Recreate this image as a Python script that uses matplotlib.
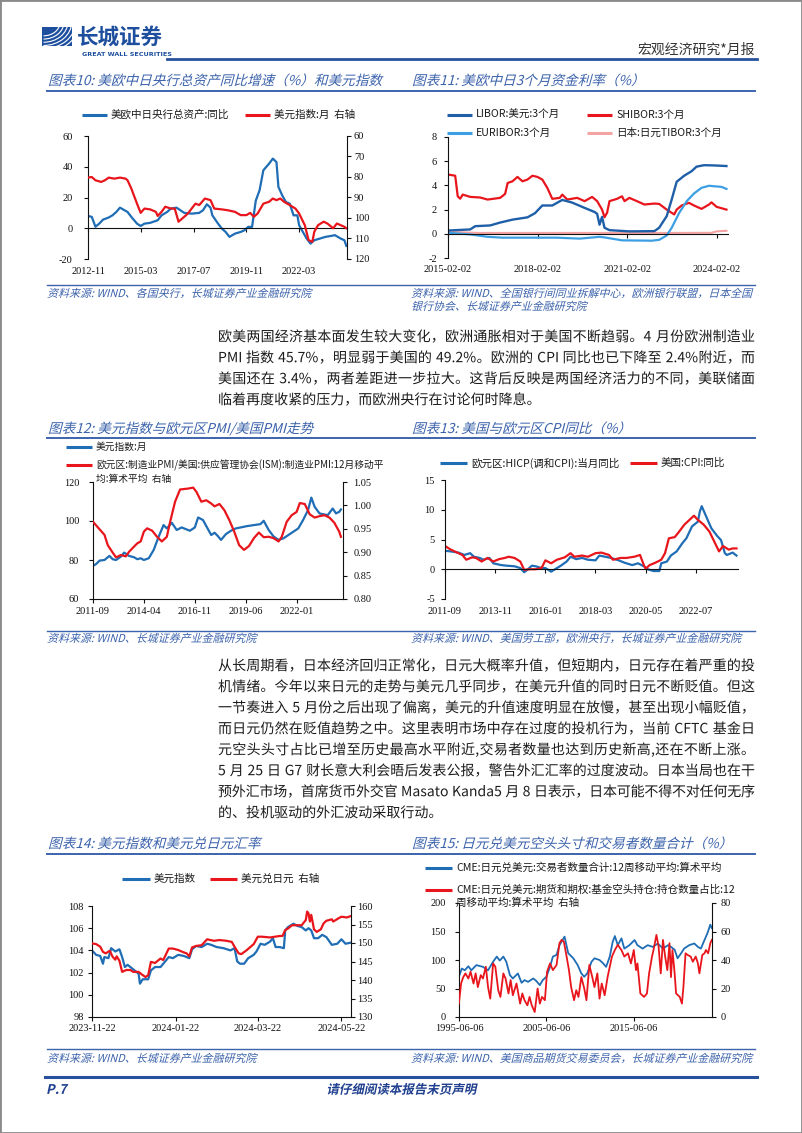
import re
import numpy as np
import pandas as pd
import matplotlib
matplotlib.use('Agg')
import matplotlib.pyplot as plt
from matplotlib.lines import Line2D
from matplotlib.patches import Rectangle, PathPatch, Arc
from matplotlib.textpath import TextPath
from matplotlib.font_manager import FontProperties
from matplotlib.transforms import Affine2D, IdentityTransform

plt.rcParams['font.family'] = ['Noto Sans CJK SC', 'DejaVu Sans']
plt.rcParams['axes.unicode_minus'] = False

# ---------------- data ----------------
# chart 10: central bank assets yoy (left) and dollar index (right, inverted)
c10_assets_dates = ['2012-11','2013-01','2013-03','2013-05','2013-07','2013-10','2013-12','2014-02','2014-04','2014-06',
                    '2014-08','2014-10','2015-01','2015-03','2015-05','2015-08','2015-12','2016-02','2016-05','2016-07',
                    '2016-10','2016-12','2017-02','2017-06','2017-10','2017-12','2018-02','2018-04','2018-05','2018-08',
                    '2018-10','2018-12','2019-02','2019-05','2019-08','2019-10','2019-12','2020-02','2020-04','2020-06',
                    '2020-08','2020-11','2021-01','2021-03','2021-04','2021-06','2021-08','2021-10','2021-12','2022-02',
                    '2022-03','2022-05','2022-07','2022-09','2022-11','2023-02','2023-05','2023-07','2023-10','2024-01',
                    '2024-03','2024-04']
c10_assets = [8, 7.4, 1, 3, 5.6, 7, 8.4, 10.6, 13.4, 12,
              10.6, 7.4, 3, 1.5, 3, 3.5, 5.2, 8.4, 10.6, 12.8,
              13.4, 11.7, 10, 9.5, 10, 11.7, 15.6, 13.4, 8.4, 3,
              -0.2, -2.4, -5.6, -3.5, -2.4, -1.3, 0.9, 0.9, 18, 24.7,
              37.7, 42, 45.3, 43, 26.9, 21.4, 17, 16, 8.4, 8.4,
              2, -2.4, -6.7, -10, -7.8, -6.7, -5.6, -5.2, -4.5, -6.7,
              -7.8, -11.5]
c10_dxy_dates = ['2012-11','2013-01','2013-03','2013-06','2013-08','2013-10','2014-01','2014-04','2014-07','2014-08',
                 '2014-10','2015-01','2015-03','2015-05','2015-08','2015-11','2015-12','2016-02','2016-04','2016-07',
                 '2016-09','2016-11','2017-02','2017-04','2017-08','2017-10','2018-01','2018-04','2018-06','2018-10',
                 '2019-01','2019-05','2019-08','2019-11','2020-01','2020-03','2020-05','2020-08','2020-11','2021-01',
                 '2021-03','2021-05','2021-07','2021-10','2022-01','2022-03','2022-06','2022-08','2022-10','2022-11',
                 '2023-01','2023-04','2023-06','2023-09','2023-11','2024-01','2024-03','2024-04']
c10_dxy = [80.3, 80, 81.6, 82.4, 81.6, 80.3, 80.8, 80.3, 80.8, 81.6,
           85.6, 93, 97.5, 95.4, 95.8, 97, 99, 97, 94.5, 95.4,
           95.4, 101.8, 99.4, 97.8, 93, 93.7, 90.5, 91.3, 95.4, 95.8,
           96.2, 97, 98.6, 98.6, 97.5, 99.4, 97.8, 93, 92.1, 90.5,
           91.3, 90.5, 92.1, 93.7, 95.4, 97.8, 103.5, 110.8, 111.6, 106.7,
           103.5, 101.8, 102.7, 105, 102.7, 103.5, 104.3, 105]
c10_ticks = ['2012-11', '2015-03', '2017-07', '2019-11', '2022-03']

# chart 11: 3-month money rates
c11_libor_dates = ['2015-02','2015-11','2016-01','2016-07','2016-11','2017-04','2017-10','2018-01','2018-04','2018-08',
                   '2018-12','2019-04','2019-09','2020-01','2020-02','2020-03','2020-04','2020-05','2020-07','2021-03',
                   '2022-01','2022-03','2022-06','2022-08','2022-10','2023-01','2023-04','2023-06','2023-09','2024-01',
                   '2024-06']
c11_libor = [0.27, 0.36, 0.63, 0.69, 0.93, 1.17, 1.36, 1.7, 2.34, 2.34,
             2.8, 2.58, 2.14, 1.8, 1.65, 0.75, 1.4, 0.5, 0.3, 0.2,
             0.22, 0.5, 1.46, 2.83, 4.3, 4.8, 5.17, 5.55, 5.67, 5.65,
             5.6]
c11_shibor_dates = ['2015-02','2015-05','2015-06','2015-07','2015-08','2015-11','2016-03','2016-06','2016-11','2017-01',
                    '2017-02','2017-04','2017-06','2017-08','2017-10','2017-12','2018-02','2018-04','2018-06','2018-08',
                    '2018-11','2018-12','2019-02','2019-06','2019-09','2019-12','2020-02','2020-04','2020-05','2020-06',
                    '2020-07','2020-10','2020-12','2021-01','2021-03','2021-06','2021-09','2022-01','2022-03','2022-06',
                    '2022-09','2022-10','2022-12','2023-03','2023-05','2023-08','2023-11','2023-12','2024-02','2024-06']
c11_shibor = [4.9, 4.8, 3.1, 2.9, 3.24, 3.05, 3.0, 2.83, 2.97, 3.3,
              4.2, 4.34, 4.7, 4.34, 4.48, 4.8, 4.7, 4.48, 3.8, 2.89,
              2.97, 3.24, 2.83, 2.97, 2.7, 3.05, 2.7, 2.0, 1.37, 1.73,
              2.7, 2.89, 3.1, 2.7, 2.97, 2.7, 2.42, 2.5, 2.47, 2.0,
              1.6, 2.0, 2.34, 2.56, 2.34, 2.06, 2.42, 2.6, 2.23, 2.0]
c11_euribor_dates = ['2015-02','2015-11','2016-06','2016-12','2018-10','2019-07','2020-03','2020-05','2020-12','2021-12',
                     '2022-03','2022-06','2022-08','2022-11','2023-02','2023-05','2023-08','2023-11','2024-01','2024-04',
                     '2024-06']
c11_euribor = [0.08, -0.05, -0.25, -0.32, -0.32, -0.4, -0.25, -0.3, -0.54, -0.57,
               -0.5, -0.14, 0.5, 1.73, 2.7, 3.33, 3.8, 3.97, 3.93, 3.88,
               3.71]
c11_tibor_dates = ['2015-02', '2016-02', '2018-01', '2020-06', '2022-06', '2023-12', '2024-02', '2024-06']
c11_tibor = [0.17, 0.07, 0.07, 0.07, 0.07, 0.08, 0.2, 0.25]
c11_ticks = ['2015-02-02', '2018-02-02', '2021-02-02', '2024-02-02']

# chart 12: dollar index (left) and EZ PMI / US PMI ratio (right)
c12_dxy_dates = ['2011-09','2011-11','2012-01','2012-04','2012-07','2012-09','2012-11','2013-02','2013-04','2013-07',
                 '2013-10','2013-12','2014-02','2014-04','2014-07','2014-10','2015-01','2015-04','2015-06','2015-09',
                 '2015-12','2016-03','2016-08','2016-11','2017-01','2017-04','2017-06','2017-09','2017-11','2018-01',
                 '2018-03','2018-06','2018-09','2018-12','2019-03','2019-07','2019-11','2020-03','2020-05','2020-08',
                 '2020-11','2021-02','2021-05','2021-08','2021-11','2022-02','2022-05','2022-08','2022-10','2022-12',
                 '2023-03','2023-05','2023-08','2023-11','2024-01','2024-03','2024-04']
c12_dxy = [77, 78, 79.7, 80, 82.1, 80.4, 80, 81.8, 83.8, 82.1,
           81.4, 80.4, 80.9, 80, 80.9, 85.2, 92, 97.9, 96.2, 99.1,
           95.4, 96.7, 95, 96.7, 101.8, 100.5, 97.4, 92.8, 94, 92.3,
           90.3, 93.3, 95, 96.2, 96.7, 97.4, 97.9, 98.4, 100.1, 95.4,
           92, 90.3, 91.1, 92.8, 94.5, 96.2, 100.5, 105.6, 112, 107.3,
           103.9, 103.5, 103, 106.4, 103.9, 104.7, 105.9]
c12_pmi_dates = ['2011-09','2011-12','2012-04','2012-06','2012-09','2012-11','2013-02','2013-05','2013-07','2013-10',
                 '2013-12','2014-02','2014-04','2014-06','2014-09','2014-12','2015-03','2015-06','2015-08','2015-11',
                 '2016-02','2016-07','2016-10','2016-12','2017-03','2017-06','2017-09','2017-11','2018-02','2018-05',
                 '2018-08','2018-11','2019-02','2019-05','2019-08','2019-11','2020-02','2020-05','2020-08','2020-11',
                 '2021-02','2021-04','2021-07','2021-10','2022-01','2022-03','2022-06','2022-09','2022-12','2023-03',
                 '2023-06','2023-09','2023-12','2024-03','2024-04']
c12_pmi = [0.965, 0.953, 0.937, 0.915, 0.899, 0.889, 0.894, 0.891, 0.901, 0.912,
           0.919, 0.923, 0.944, 0.951, 0.946, 0.933, 0.923, 0.933, 0.965, 1.008,
           1.034, 1.036, 1.038, 1.029, 1.008, 1.011, 1.004, 0.998, 1.003, 0.99,
           0.969, 0.944, 0.915, 0.905, 0.913, 0.93, 0.942, 0.932, 0.933, 0.93,
           0.923, 0.933, 0.965, 0.979, 0.986, 1.005, 1.003, 0.981, 0.974, 0.977,
           0.979, 0.974, 0.963, 0.944, 0.933]
c12_ticks = ['2011-09', '2014-04', '2016-11', '2019-06', '2022-01']

# chart 13: HICP and US CPI yoy
c13_hicp_dates = ['2011-09','2011-12','2012-04','2012-07','2012-10','2012-12','2013-03','2013-05','2013-08','2013-10',
                  '2014-02','2014-05','2014-09','2014-12','2015-02','2015-04','2015-06','2015-08','2015-11','2016-01',
                  '2016-04','2016-06','2016-09','2016-12','2017-02','2017-05','2017-08','2017-11','2018-03','2018-05',
                  '2018-08','2018-11','2019-03','2019-06','2019-10','2020-01','2020-04','2020-06','2020-09','2020-12',
                  '2021-01','2021-04','2021-06','2021-09','2021-12','2022-02','2022-05','2022-08','2022-09','2022-10',
                  '2022-12','2023-03','2023-06','2023-08','2023-10','2023-11','2024-02','2024-04']
c13_hicp = [3.1, 3.0, 2.8, 2.4, 2.7, 2.1, 1.9, 1.6, 1.9, 1.0,
            0.7, 0.6, 0.5, 0.2, -0.5, 0.0, 0.6, 0.5, 0.2, 0.2,
            -0.4, 0.0, 0.6, 1.3, 2.1, 1.7, 1.9, 1.6, 1.5, 2.3,
            2.1, 1.9, 1.5, 1.1, 0.7, 1.0, 0.5, 0.0, -0.3, -0.3,
            1.0, 1.3, 2.3, 3.0, 4.4, 5.2, 7.2, 8.0, 9.7, 10.6,
            9.1, 6.9, 5.6, 4.9, 2.7, 2.4, 2.8, 2.3]
c13_cpi_dates = ['2011-09','2011-12','2012-04','2012-06','2012-08','2012-11','2013-01','2013-04','2013-07','2013-10',
                 '2014-01','2014-04','2014-06','2014-09','2014-12','2015-02','2015-05','2015-08','2015-11','2016-01',
                 '2016-04','2016-07','2016-11','2017-02','2017-04','2017-08','2017-11','2018-03','2018-06','2018-10',
                 '2018-12','2019-04','2019-07','2019-11','2020-02','2020-04','2020-05','2020-07','2020-10','2021-01',
                 '2021-03','2021-05','2021-08','2021-10','2022-01','2022-04','2022-06','2022-08','2022-11','2023-02',
                 '2023-04','2023-07','2023-09','2023-12','2024-02','2024-04']
c13_cpi = [3.9, 3.3, 2.7, 2.4, 1.6, 2.0, 1.9, 1.3, 1.9, 1.3,
           1.7, 1.9, 2.1, 1.9, 1.3, -0.1, 0.0, 0.0, 0.2, 1.5,
           1.0, 1.6, 2.0, 2.7, 2.1, 2.3, 2.1, 2.7, 2.8, 2.4,
           1.6, 1.9, 1.9, 2.1, 2.4, 0.7, 0.1, 0.7, 1.1, 1.6,
           2.7, 5.2, 5.4, 6.2, 7.5, 8.4, 9.0, 8.3, 7.5, 6.3,
           5.0, 3.0, 3.9, 3.3, 3.5, 3.5]
c13_ticks = ['2011-09', '2013-11', '2016-01', '2018-03', '2020-05', '2022-07']

# chart 14: dollar index and USDJPY (daily)
c14_dxy_dates = ['2023-11-22','2023-11-25','2023-11-28','2023-11-30','2023-12-01','2023-12-04','2023-12-06','2023-12-09','2023-12-12','2023-12-14',
                 '2023-12-16','2023-12-18','2023-12-22','2023-12-26','2023-12-27','2023-12-29','2024-01-02','2024-01-04','2024-01-07','2024-01-11',
                 '2024-01-13','2024-01-17','2024-01-20','2024-01-24','2024-01-28','2024-02-01','2024-02-03','2024-02-06','2024-02-10','2024-02-14',
                 '2024-02-17','2024-02-21','2024-02-26','2024-03-02','2024-03-05','2024-03-07','2024-03-09','2024-03-12','2024-03-15','2024-03-19',
                 '2024-03-21','2024-03-24','2024-03-27','2024-03-31','2024-04-02','2024-04-04','2024-04-07','2024-04-10','2024-04-11','2024-04-13',
                 '2024-04-17','2024-04-20','2024-04-23','2024-04-26','2024-04-28','2024-04-30','2024-05-02','2024-05-05','2024-05-08','2024-05-11',
                 '2024-05-15','2024-05-19','2024-05-22','2024-05-25','2024-05-29']
c14_dxy = [104.0, 103.6, 103.5, 102.8, 103.4, 103.3, 104.2, 103.9, 104.1, 103.4,
           102.5, 102.7, 102.3, 101.9, 101.0, 101.4, 101.4, 102.2, 102.5, 102.5,
           102.8, 103.4, 103.3, 103.6, 103.5, 103.3, 104.1, 104.4, 104.3, 104.6,
           104.5, 104.3, 104.2, 104.0, 104.2, 103.0, 102.8, 102.8, 103.3, 103.6,
           103.9, 104.6, 104.5, 104.8, 105.1, 104.3, 104.3, 104.2, 105.8, 106.1,
           106.4, 106.2, 106.1, 105.8, 106.0, 105.8, 105.1, 105.1, 105.4, 105.2,
           104.5, 104.6, 105.0, 104.6, 104.7]
c14_jpy_dates = ['2023-11-22','2023-11-25','2023-11-28','2023-11-30','2023-12-02','2023-12-05','2023-12-07','2023-12-09','2023-12-10','2023-12-12',
                 '2023-12-14','2023-12-17','2023-12-20','2023-12-22','2023-12-26','2023-12-28','2023-12-31','2024-01-02','2024-01-04','2024-01-07',
                 '2024-01-11','2024-01-13','2024-01-17','2024-01-20','2024-01-24','2024-01-27','2024-01-30','2024-02-01','2024-02-03','2024-02-06',
                 '2024-02-10','2024-02-14','2024-02-19','2024-02-23','2024-02-28','2024-03-03','2024-03-05','2024-03-08','2024-03-10','2024-03-14',
                 '2024-03-19','2024-03-22','2024-03-25','2024-03-31','2024-04-07','2024-04-09','2024-04-11','2024-04-13','2024-04-16','2024-04-20',
                 '2024-04-23','2024-04-26','2024-04-27','2024-04-28','2024-04-29','2024-04-30','2024-05-02','2024-05-04','2024-05-07','2024-05-09',
                 '2024-05-11','2024-05-15','2024-05-16','2024-05-20','2024-05-22','2024-05-26','2024-05-29']
c14_jpy = [149.9, 149.7, 149.0, 147.6, 147.2, 147.9, 146.3, 145.5, 146.4, 145.2,
           142.2, 142.7, 142.7, 142.2, 142.2, 141.6, 140.8, 141.3, 144.9, 144.6,
           145.8, 145.4, 148.5, 148.5, 148.1, 147.6, 147.2, 146.4, 148.8, 149.2,
           149.4, 151.0, 150.6, 150.8, 150.6, 150.3, 149.0, 147.2, 147.0, 148.1,
           149.7, 151.7, 151.7, 151.5, 151.9, 151.9, 153.5, 153.9, 154.8, 154.8,
           154.8, 156.2, 158.5, 158.0, 155.8, 157.6, 153.7, 153.0, 153.7, 155.3,
           156.0, 156.4, 155.8, 156.7, 157.1, 156.9, 157.3]
c14_ticks = ['2023-11-22', '2024-01-22', '2024-03-22', '2024-05-22']

# chart 15: CME JPY traders count (left) and fund short share % (right)
c15_traders_dates = ['1995-06','1995-10','1996-02','1996-07','1996-11','1997-06','1998-03','1998-10','1999-05','1999-10',
                     '2000-02','2000-07','2000-11','2001-04','2001-08','2002-03','2002-08','2002-12','2003-05','2003-12',
                     '2004-04','2004-09','2005-01','2005-06','2005-11','2006-03','2006-08','2006-12','2007-07','2007-12',
                     '2008-07','2009-01','2009-06','2009-10','2010-02','2010-08','2010-12','2011-07','2011-12','2012-04',
                     '2012-09','2013-01','2013-04','2013-08','2014-01','2014-05','2014-12','2015-07','2015-11','2016-06',
                     '2017-01','2017-08','2018-03','2018-10','2019-05','2019-09','2020-02','2020-06','2020-11','2021-03',
                     '2021-10','2022-05','2022-10','2023-02','2023-07','2023-11','2024-03','2024-05']
c15_traders = [70.6, 85, 82, 89, 82, 91, 88, 82, 97, 106,
               99, 106, 97, 73.5, 67.6, 76.4, 60, 64.7, 61.7, 67.6,
               63.5, 55.9, 64.7, 70.6, 88, 106, 109, 126, 141, 112,
               103, 91, 76.4, 70.6, 76.4, 97, 103, 100, 94, 88,
               106, 132, 142, 126, 138, 120, 126, 135, 126, 120,
               126, 123, 129, 120, 126, 123, 118, 103, 112, 120,
               126, 129, 123, 120, 135, 147, 162, 156]
c15_short_dates = ['1995-06','1995-09','1995-12','1996-03','1996-07','1996-10','1997-02','1997-05','1997-08','1997-12',
                   '1998-03','1998-07','1998-10','1999-01','1999-05','1999-08','1999-12','2000-03','2000-07','2000-10',
                   '2001-02','2001-05','2001-08','2002-01','2002-06','2002-09','2002-12','2003-04','2003-07','2003-10',
                   '2004-02','2004-06','2004-09','2004-12','2005-04','2005-07','2005-11','2006-03','2006-08','2006-12',
                   '2007-03','2007-06','2007-09','2008-01','2008-04','2008-08','2008-11','2009-02','2009-06','2009-10',
                   '2010-01','2010-05','2010-09','2010-12','2011-04','2011-07','2011-10','2012-02','2012-06','2012-09',
                   '2012-12','2013-04','2013-08','2014-01','2014-05','2014-10','2015-02','2015-06','2015-09','2015-11',
                   '2016-03','2016-08','2016-12','2017-03','2017-07','2017-09','2018-01','2018-04','2018-07','2018-10',
                   '2019-01','2019-04','2019-07','2019-09','2019-11','2020-02','2020-04','2020-09','2020-12','2021-02',
                   '2021-05','2021-08','2021-12','2022-03','2022-07','2022-10','2022-12','2023-04','2023-07','2023-09',
                   '2023-12','2024-03','2024-05']
c15_short = [9.4, 23.5, 28, 30.6, 27, 31.8, 23.5, 30.6, 21, 29.4,
             27, 35.3, 21, 12.9, 37.6, 35.3, 18.8, 14.1, 30.6, 27,
             16.5, 25.9, 15.3, 23.5, 9.4, 16.5, 11.8, 8.2, 14.1, 8.2,
             3.5, 20, 9.4, 14.1, 11.8, 31.8, 37.6, 32.9, 36.5, 51.8,
             54.1, 52.9, 44.7, 32.9, 21, 11.8, 18.8, 14.1, 28, 20,
             11.8, 36.5, 28, 21, 30.6, 12.9, 23.5, 15.3, 28, 35.3,
             42.4, 47, 50.6, 47, 42.4, 44.7, 37.6, 47, 32.9, 37.6,
             16.5, 14.1, 16.5, 30.6, 42.4, 47, 57.6, 49.4, 30.6, 54.1,
             42.4, 32.9, 51.8, 28, 47, 30.6, 16.5, 14.1, 9.4, 21,
             44.7, 43.5, 42.4, 38.8, 42.4, 37.6, 30.6, 43.5, 44.7, 47,
             44.7, 51.8, 54.1]
c15_ticks = ['1995-06-06', '2005-06-06', '2015-06-06']

para1 = ['欧美两国经济基本面发生较大变化，欧洲通胀相对于美国不断趋弱。4 月份欧洲制造业',
         'PMI 指数 45.7%，明显弱于美国的 49.2%。欧洲的 CPI 同比也已下降至 2.4%附近，而',
         '美国还在 3.4%，两者差距进一步拉大。这背后反映是两国经济活力的不同，美联储面',
         '临着再度收紧的压力，而欧洲央行在讨论何时降息。']
para2 = ['从长周期看，日本经济回归正常化，日元大概率升值，但短期内，日元存在着严重的投',
         '机情绪。今年以来日元的走势与美元几乎同步，在美元升值的同时日元不断贬值。但这',
         '一节奏进入 5 月份之后出现了偏离，美元的升值速度明显在放慢，甚至出现小幅贬值，',
         '而日元仍然在贬值趋势之中。这里表明市场中存在过度的投机行为，当前 CFTC 基金日',
         '元空头头寸占比已增至历史最高水平附近,交易者数量也达到历史新高,还在不断上涨。',
         '5 月 25 日 G7 财长意大利会晤后发表公报，警告外汇汇率的过度波动。日本当局也在干',
         '预外汇市场，首席货币外交官 Masato Kanda5 月 8 日表示，日本可能不得不对任何无序',
         '的、投机驱动的外汇波动采取行动。']

# ---------------- page ----------------
W, H, DPI = 802, 1133, 100
BLUE = '#1f6db5'
RED = '#e8161c'
TBLUE = '#3b62ab'
LINEBLUE = '#3c64ad'
TXT = '#1c1c1c'
SERIF = 'Liberation Serif'
CJK = FontProperties(family='Noto Sans CJK SC')
CJKB = FontProperties(family='Noto Sans CJK SC', weight='bold')
K = DPI / 72

fig = plt.figure(figsize=(W / DPI, H / DPI), dpi=DPI, facecolor='white')


def fx(x):
    return x / W


def fy(y):
    return 1 - y / H


def hline(x1, x2, y, lw, color=LINEBLUE):
    fig.add_artist(Line2D([fx(x1), fx(x2)], [fy(y), fy(y)], color=color, lw=lw,
                          transform=fig.transFigure))


def add_path(tp, tr, color):
    fig.add_artist(PathPatch(tr.transform_path(tp), fc=color, ec='none', lw=0, snap=False,
                             transform=IdentityTransform()))


def path_text(x, y, s, size, color, bold=False, skew=0, ha='left'):
    tp = TextPath((0, 0), s, size=size, prop=CJKB if bold else CJK)
    w = tp.get_extents().x1 * K
    if ha == 'center':
        x -= w / 2
    elif ha == 'right':
        x -= w
    tr = Affine2D().skew_deg(skew, 0).scale(K).translate(x, H - y - 0.37 * size * K)
    add_path(tp, tr, color)


BODY = 10.1
TEXT_L, TEXT_R = 218, 755


def body_line(y, s, justify):
    em = BODY * K
    toks = re.findall(r'[!-~]+| +|[^\x00-\x7f]', s)
    paths, widths = [], []
    for t in toks:
        if t.strip() == '':
            paths.append(None)
            widths.append(0.27 * em * len(t))
            continue
        tp = TextPath((0, 0), t, size=BODY, prop=CJK)
        paths.append(tp)
        if ord(t[0]) > 127:
            widths.append(em)
        else:
            widths.append(tp.get_extents().x1 * K + 0.06 * em)
    gap = 0
    if justify and len(toks) > 1:
        gap = (TEXT_R - TEXT_L - sum(widths)) / (len(toks) - 1)
    x = TEXT_L
    for tp, w in zip(paths, widths):
        if tp is not None:
            add_path(tp, Affine2D().scale(K).translate(x, H - y - 0.37 * em), TXT)
        x += w + gap


def axbox(l, t, r, b):
    ax = fig.add_axes([l / W, 1 - b / H, (r - l) / W, (b - t) / H])
    ax.patch.set_alpha(0)
    return ax


def frame(ax, ax2, lpad, rpad, xpad, zero):
    ax.spines['top'].set_visible(False)
    ax.spines['right'].set_visible(False)
    if zero:
        ax.spines['bottom'].set_position(('data', 0))
    for sp in ax.spines.values():
        sp.set_linewidth(0.8)
        sp.set_color('#111111')
    ax.tick_params(axis='y', direction='out', length=3, width=0.8, pad=lpad, labelsize=7.5,
                   labelfontfamily=SERIF, colors='#111111')
    ax.tick_params(axis='x', direction='out', length=3, width=0.8, pad=xpad, labelsize=7.5,
                   labelfontfamily=SERIF, colors='#111111')
    if ax2 is not None:
        for s in ['top', 'bottom', 'left']:
            ax2.spines[s].set_visible(False)
        ax2.spines['right'].set_linewidth(0.8)
        ax2.spines['right'].set_color('#111111')
        ax2.tick_params(axis='y', direction='out', length=3, width=0.8, pad=rpad, labelsize=7.5,
                        labelfontfamily=SERIF, colors='#111111')


def legend_item(x1, x2, y, color, label, size=7.6, lw=2.2):
    fig.add_artist(Line2D([fx(x1), fx(x2)], [fy(y), fy(y)], color=color, lw=lw,
                          transform=fig.transFigure, solid_capstyle='butt'))
    if label:
        fig.text(fx(x2 + 4), fy(y), label, fontsize=size, va='center', ha='left', color='#1a1a1a')


def dt(lst):
    return pd.to_datetime(lst)


def set_xdates(ax, ticks, labels, lo, hi):
    ax.set_xlim(pd.Timestamp(lo), pd.Timestamp(hi))
    ax.set_xticks(dt(ticks))
    ax.set_xticklabels(labels)


# page frame
fig.add_artist(Rectangle((0, 0), 1, 1, transform=fig.transFigure, fill=False, ec='#8a8a8a', lw=2))

# logo
lax = axbox(42, 27, 72, 46)
lax.set_xlim(0, 1)
lax.set_ylim(0, 1)
lax.axis('off')
lax.add_patch(Rectangle((0, 0), 1, 1, color='#1d4f9e'))
for r in [0.55, 0.68, 0.81, 0.94, 1.07, 1.2]:
    lax.add_patch(Arc((0.05, 1.25), 2 * r, 2.6 * r, theta1=-90, theta2=0, color='white', lw=0.8))
fig.text(fx(77), fy(37), '长城证券', fontsize=15.5, fontweight='bold', color='#1d4f9e', va='center', ha='left')
fig.text(fx(82), fy(54), 'GREAT WALL SECURITIES', fontsize=4.6, fontweight='bold', color='#1d4f9e',
         va='center', ha='left', family='DejaVu Sans')
hline(167, 757, 59, 2.0, '#27509f')
fig.text(fx(755), fy(50), '宏观经济研究*月报', fontsize=10, color='#333333', va='center', ha='right')

# titles, rules, sources
for x, y, s in [(48, 80, '图表10: 美欧中日央行总资产同比增速（%）和美元指数'),
                (412, 80, '图表11: 美欧中日3个月资金利率（%）'),
                (48, 428, '图表12: 美元指数与欧元区PMI/美国PMI走势'),
                (412, 428, '图表13: 美国与欧元区CPI同比（%）'),
                (48, 843, '图表14: 美元指数和美元兑日元汇率'),
                (412, 843, '图表15: 日元兑美元空头头寸和交易者数量合计（%）')]:
    path_text(x, y, s, 9.8, TBLUE, skew=15)
for y in [91, 438, 854]:
    hline(47, 755, y, 1.4)
for y in [285, 631, 1049]:
    hline(47, 755, y, 1.0)
for x, y, s in [(47, 293, '资料来源: WIND、各国央行，长城证券产业金融研究院'),
                (411, 293, '资料来源: WIND、全国银行间同业拆解中心，欧洲银行联盟，日本全国'),
                (411, 306, '银行协会、长城证券产业金融研究院'),
                (47, 638, '资料来源: WIND、长城证券产业金融研究院'),
                (411, 638, '资料来源: WIND、美国劳工部，欧洲央行，长城证券产业金融研究院'),
                (47, 1058, '资料来源: WIND、长城证券产业金融研究院'),
                (411, 1058, '资料来源: WIND、美国商品期货交易委员会，长城证券产业金融研究院')]:
    path_text(x, y, s, 7.9, TBLUE, skew=15)

# footer
hline(45, 757, 1077, 2.2, '#27509f')
path_text(46, 1089, 'P.7', 9.5, '#1f3f8f', bold=True, skew=12)
path_text(401, 1089, '请仔细阅读本报告末页声明', 9.0, '#1f3f8f', bold=True, skew=12, ha='center')

# body text
for i, s in enumerate(para1):
    body_line(336 + 21 * i, s, i < len(para1) - 1)
for i, s in enumerate(para2):
    body_line(665 + 21 * i, s, i < len(para2) - 1)

# ---------------- chart 10 ----------------
ax = axbox(88, 136, 347, 259)
ax2 = ax.twinx()
ax.plot(dt(c10_assets_dates), c10_assets, color=BLUE, lw=1.6)
ax2.plot(dt(c10_dxy_dates), c10_dxy, color=RED, lw=1.6)
ax.set_ylim(-20, 60)
ax.set_yticks([-20, 0, 20, 40, 60])
ax2.set_ylim(120, 60)
ax2.set_yticks([60, 70, 80, 90, 100, 110, 120])
set_xdates(ax, dt(c10_ticks), c10_ticks, '2012-11-01', '2024-04-12')
frame(ax, ax2, 8, 2, 25, True)
legend_item(82, 107, 115, BLUE, '美欧中日央行总资产:同比')
legend_item(245, 270, 115, RED, '美元指数:月  右轴')

# ---------------- chart 11 ----------------
ax = axbox(448, 137, 728, 258)
ax.plot(dt(c11_tibor_dates), c11_tibor, color='#f4a3a3', lw=1.5)
ax.plot(dt(c11_shibor_dates), c11_shibor, color=RED, lw=1.6)
ax.plot(dt(c11_euribor_dates), c11_euribor, color='#3d9fe3', lw=1.6)
ax.plot(dt(c11_libor_dates), c11_libor, color='#1f5fa8', lw=1.7)
ax.set_ylim(-2, 8)
ax.set_yticks([-2, 0, 2, 4, 6, 8])
set_xdates(ax, dt(c11_ticks), c11_ticks, '2015-02-02', '2024-06-20')
frame(ax, None, 5, 0, 19.5, True)
legend_item(447, 472, 115, '#1f5fa8', 'LIBOR:美元:3个月')
legend_item(587, 612, 115, RED, 'SHIBOR:3个月')
legend_item(447, 472, 133, '#3d9fe3', 'EURIBOR:3个月')
legend_item(587, 612, 133, '#f4a3a3', '日本:日元TIBOR:3个月')

# ---------------- chart 12 ----------------
ax = axbox(93, 482, 343, 599)
ax2 = ax.twinx()
ax.plot(dt(c12_dxy_dates), c12_dxy, color=BLUE, lw=1.6)
ax2.plot(dt(c12_pmi_dates), c12_pmi, color=RED, lw=1.6)
ax.set_ylim(60, 120)
ax.set_yticks([60, 80, 100, 120])
ax2.set_ylim(0.80, 1.05)
ax2.set_yticks([0.80, 0.85, 0.90, 0.95, 1.00, 1.05])
ax2.set_yticklabels(['0.80', '0.85', '0.90', '0.95', '1.00', '1.05'])
set_xdates(ax, dt(c12_ticks), c12_ticks, '2011-09-01', '2024-05-10')
frame(ax, ax2, 7, 4.3, 3, False)
legend_item(66, 92, 447, BLUE, '美元指数:月', size=7.0)
legend_item(66, 92, 465, RED, '欧元区:制造业PMI/美国:供应管理协会(ISM):制造业PMI:12月移动平', size=7.0)
fig.text(fx(96), fy(479), '均:算术平均  右轴', fontsize=7.0, va='center', ha='left', color='#1a1a1a')

# ---------------- chart 13 ----------------
ax = axbox(445, 480, 738, 599)
ax.plot(dt(c13_hicp_dates), c13_hicp, color=BLUE, lw=1.6)
ax.plot(dt(c13_cpi_dates), c13_cpi, color=RED, lw=1.6)
ax.set_ylim(-5, 15)
ax.set_yticks([-5, 0, 5, 10, 15])
set_xdates(ax, dt(c13_ticks), c13_ticks, '2011-09-01', '2024-04-25')
frame(ax, None, 4.3, 0, 24.5, True)
legend_item(440, 467, 463, BLUE, '欧元区:HICP(调和CPI):当月同比')
legend_item(630, 657, 463, RED, '美国:CPI:同比')

# ---------------- chart 14 ----------------
ax = axbox(92, 906, 351, 1017)
ax2 = ax.twinx()
ax.plot(dt(c14_dxy_dates), c14_dxy, color=BLUE, lw=1.6)
ax2.plot(dt(c14_jpy_dates), c14_jpy, color=RED, lw=1.6)
ax.set_ylim(98, 108)
ax.set_yticks([98, 100, 102, 104, 106, 108])
ax2.set_ylim(130, 160)
ax2.set_yticks([130, 135, 140, 145, 150, 155, 160])
set_xdates(ax, dt(c14_ticks), c14_ticks, '2023-11-22', '2024-05-29')
frame(ax, ax2, 3, 1.2, 2, False)
legend_item(122, 150, 879, BLUE, '美元指数')
legend_item(210, 237, 879, RED, '美元兑日元  右轴')

# ---------------- chart 15 ----------------
ax = axbox(459, 903, 712, 1017)
ax2 = ax.twinx()
ax.plot(dt(c15_traders_dates), c15_traders, color=BLUE, lw=1.3)
ax2.plot(dt(c15_short_dates), c15_short, color=RED, lw=1.3)
ax.set_ylim(0, 200)
ax.set_yticks([0, 50, 100, 150, 200])
ax2.set_ylim(0, 80)
ax2.set_yticks([0, 20, 40, 60, 80])
set_xdates(ax, dt(c15_ticks), c15_ticks, '1995-06-06', '2024-05-10')
frame(ax, ax2, 6.5, 3, 2, False)
legend_item(425, 452, 868, BLUE, 'CME:日元兑美元:交易者数量合计:12周移动平均:算术平均')
legend_item(425, 452, 890, RED, 'CME:日元兑美元:期货和期权:基金空头持仓:持仓数量占比:12')
fig.text(fx(456), fy(903), '周移动平均:算术平均  右轴', fontsize=7.6, va='center', ha='left', color='#1a1a1a')

fig.savefig('out.png', dpi=DPI, facecolor='white')
